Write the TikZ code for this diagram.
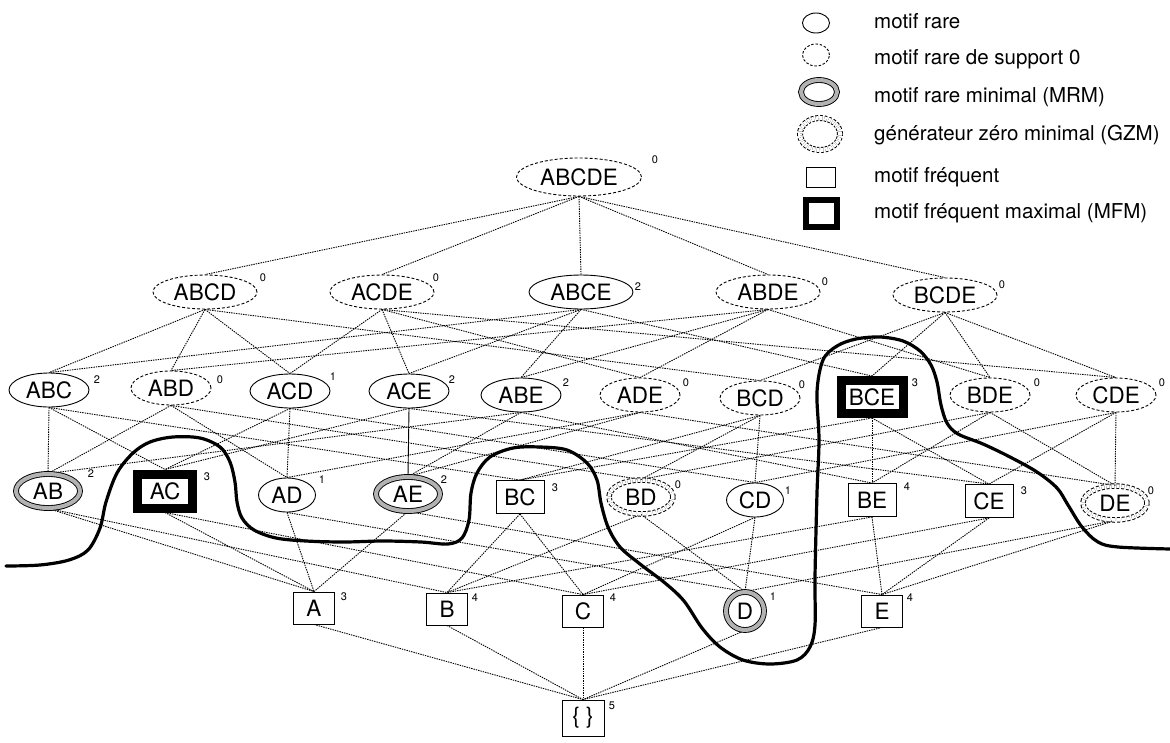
\documentclass[tikz,border=0pt]{standalone}
\usepackage{fontspec}
\setmainfont{TeX Gyre Heros}
\usetikzlibrary{shapes.geometric}
\pgfdeclarelayer{bg}
\pgfsetlayers{bg,main}
\begin{document}
\begin{tikzpicture}[x=1pt,y=-1pt,
  lab/.style={font=\fontsize{22.5}{24}\selectfont, inner sep=0pt, fill=white},
  rare/.style={lab, ellipse, draw, line width=0.9pt},
  rarez/.style={lab, ellipse, draw, line width=0.9pt, dash pattern=on 3pt off 2pt},
  mrm/.style={lab, ellipse, draw, line width=0.9pt, double=black!30, double distance=4pt},
  gzm/.style={lab, ellipse, draw, line width=1pt, dash pattern=on 3pt off 2pt, double=white, double distance=3.5pt},
  freq/.style={lab, rectangle, draw, line width=0.9pt},
  mfm/.style={lab, rectangle, draw, line width=9pt},
  lv5/.style={minimum width=125pt, minimum height=38pt},
  lv4/.style={minimum width=104pt, minimum height=34pt},
  lv3/.style={minimum width=80pt, minimum height=34pt},
  el2/.style={minimum width=57pt, minimum height=34pt},
  db2/.style={minimum width=64pt, minimum height=34pt},
  bx2/.style={minimum width=48pt, minimum height=33pt},
  bx1/.style={minimum width=41pt, minimum height=32pt},
  edge/.style={line width=0.9pt, dash pattern=on 1.4pt off 1pt},
  sup/.style={font=\fontsize{11}{12}\selectfont, inner sep=0pt},
  leg/.style={font=\fontsize{20.5}{22}\selectfont, inner sep=0pt, anchor=base west}]
\useasboundingbox (0,0) rectangle (1170,742);
% level 5
\node[rarez,lv5] (ABCDE) at (579,177) {ABCDE};
% level 4
\node[rarez,lv4] (ABCD) at (205,292) {ABCD};
\node[rarez,lv4] (ACDE) at (382,292) {ACDE};
\node[rare,lv4]  (ABCE) at (581,292) {ABCE};
\node[rarez,lv4] (ABDE) at (768,292) {ABDE};
\node[rarez,lv4] (BCDE) at (945,295) {BCDE};
% level 3
\node[rare,lv3]  (ABC) at (49,390) {ABC};
\node[rarez,lv3] (ABD) at (171,388) {ABD};
\node[rare,lv3]  (ACD) at (290,391) {ACD};
\node[rare,lv3]  (ACE) at (409,391) {ACE};
\node[rare,lv3]  (ABE) at (521,395) {ABE};
\node[rarez,lv3] (ADE) at (640,395) {ADE};
\node[rarez,lv3] (BCD) at (760,398) {BCD};
\node[mfm, minimum width=62pt, minimum height=33pt] (BCE) at (872,397) {BCE};
\node[rarez,lv3] (BDE) at (990,395) {BDE};
\node[rarez,lv3] (CDE) at (1116,395) {CDE};
% level 2
\node[mrm,db2] (AB) at (48,491) {AB};
\node[mfm, minimum width=55pt, minimum height=34pt] (AC) at (165,491) {AC};
\node[rare,el2] (AD) at (287,495) {AD};
\node[mrm,db2] (AE) at (408,494) {AE};
\node[freq,bx2] (BC) at (520,497) {BC};
\node[gzm,db2] (BD) at (641,497) {BD};
\node[rare,el2] (CD) at (755,500) {CD};
\node[freq,bx2] (BE) at (872,500) {BE};
\node[freq,bx2] (CE) at (989,501) {CE};
\node[gzm,db2] (DE) at (1115,503) {DE};
% level 1
\node[freq,bx1] (A) at (314,608) {A};
\node[freq,bx1] (B) at (447,609) {B};
\node[freq,bx1] (C) at (583,611) {C};
\node[mrm, minimum width=38pt, minimum height=38pt] (D) at (745,611) {D};
\node[freq,bx1] (E) at (882,611) {E};
% level 0
\node[freq, minimum width=42pt, minimum height=36pt] (empty) at (583,718) {\{ \}};
% supports
\node[sup] (sABCDE) at (655,160) {0};
\node[sup] (sABCD) at (263,278) {0};
\node[sup] (sACDE) at (436,278) {0};
\node[sup] (sABCE) at (638,287) {2};
\node[sup] (sABDE) at (825,282) {0};
\node[sup] (sBCDE) at (1002,285) {0};
\node[sup] (sABC) at (97,380) {2};
\node[sup] (sABD) at (220,380) {0};
\node[sup] (sACD) at (333,377) {1};
\node[sup] (sACE) at (452,380) {2};
\node[sup] (sABE) at (566,383) {2};
\node[sup] (sADE) at (686,383) {0};
\node[sup] (sBCD) at (802,385) {0};
\node[sup] (sBCE) at (915,383) {3};
\node[sup] (sBDE) at (1037,383) {0};
\node[sup] (sCDE) at (1162,383) {0};
\node[sup] (sAB) at (91,474) {2};
\node[sup] (sAC) at (207,477) {3};
\node[sup] (sAD) at (322,480) {1};
\node[sup] (sAE) at (444,480) {2};
\node[sup] (sBC) at (555,488) {3};
\node[sup] (sBD) at (678,485) {0};
\node[sup] (sCD) at (788,491) {1};
\node[sup] (sBE) at (907,487) {4};
\node[sup] (sCE) at (1024,491) {3};
\node[sup] (sDE) at (1151,491) {0};
\node[sup] (sA) at (344,597) {3};
\node[sup] (sB) at (475,598) {4};
\node[sup] (sC) at (613,598) {4};
\node[sup] (sD) at (773,597) {1};
\node[sup] (sE) at (910,598) {4};
\node[sup] (sempty) at (612,706) {5};
% edges
\begin{pgfonlayer}{bg}
\foreach \q in {ABCD,ACDE,ABCE,ABDE,BCDE} \draw[edge] (ABCDE.south) -- (\q.north);
\foreach \p/\q in {ABCD/ABC,ABCD/ABD,ABCD/ACD,ABCD/BCD, ACDE/ACD,ACDE/ACE,ACDE/ADE,ACDE/CDE,
  ABCE/ABC,ABCE/ABE,ABCE/ACE,ABCE/BCE, ABDE/ABD,ABDE/ABE,ABDE/ADE,ABDE/BDE,
  BCDE/BCD,BCDE/BCE,BCDE/BDE,BCDE/CDE,
  ABC/AB,ABC/AC,ABC/BC, ABD/AB,ABD/AD,ABD/BD, ACD/AC,ACD/AD,ACD/CD, ACE/AC,ACE/CE,
  ABE/AB,ABE/AE,ABE/BE, ADE/AD,ADE/AE,ADE/DE, BCD/BC,BCD/BD,BCD/CD, BCE/BC,BCE/BE,BCE/CE,
  BDE/BD,BDE/BE,BDE/DE, CDE/CD,CDE/CE,CDE/DE,
  AB/A,AB/B, AC/A,AC/C, AD/A,AD/D, AE/A,AE/E, BC/B,BC/C, BD/B,BD/D, CD/C,CD/D,
  BE/B,BE/E, CE/C,CE/E, DE/D,DE/E,
  A/empty,B/empty,C/empty,D/empty,E/empty}
  \draw[edge] (\p.south) -- (\q.north);
\draw[line width=0.9pt] (ACE.south) -- (AE.north);
\end{pgfonlayer}
% border curve
\draw[line width=3.2pt, line cap=round] plot[smooth, tension=0.55] coordinates {(6,566) (40,565) (69,560) (88,550) (100,528) (106,502) (117,473) (133,453) (150,442) (173,437) (200,438) (220,447) (230,462) (235,482) (237,502) (242,518) (254,530) (276,538) (306,541) (344,542) (383,541) (421,542) (448,544) (462,538) (469,520) (471,493) (477,473) (490,457) (513,448) (540,447) (567,450) (587,463) (597,480) (601,503) (608,527) (620,547) (640,564) (665,583) (684,601) (702,628) (720,647) (743,660) (770,664) (797,660) (810,647) (815,625) (815,577) (817,493) (819,440) (817,392) (823,360) (837,346) (856,339) (880,337) (903,341) (920,351) (931,365) (937,382) (941,405) (947,423) (958,434) (983,444) (1010,457) (1037,472) (1057,488) (1068,505) (1082,527) (1098,542) (1118,547) (1170,549)};
% legend
\node[ellipse, draw, line width=0.9pt, minimum width=27pt, minimum height=20pt, inner sep=0pt] (L1) at (816,23) {};
\node[ellipse, draw, line width=0.9pt, dash pattern=on 2.5pt off 1.8pt, minimum width=27pt, minimum height=22pt, inner sep=0pt] (L2) at (816,55) {};
\node[ellipse, draw, line width=0.9pt, double=black!30, double distance=4pt, minimum width=36pt, minimum height=24pt, inner sep=0pt] (L3) at (819,92) {};
\node[ellipse, draw, line width=1pt, dash pattern=on 2.5pt off 1.8pt, double=white, double distance=4pt, minimum width=40pt, minimum height=32pt, inner sep=0pt] (L4) at (820,134) {};
\node[rectangle, draw, line width=0.9pt, minimum width=29pt, minimum height=20pt, inner sep=0pt] (L5) at (821,177) {};
\node[rectangle, draw, line width=6pt, minimum width=31pt, minimum height=27pt, inner sep=0pt] (L6) at (821,213) {};
\node[leg] (T1) at (874,28) {motif rare};
\node[leg] (T2) at (874,64) {motif rare de support 0};
\node[leg] (T3) at (874,102) {motif rare minimal (MRM)};
\node[leg] (T4) at (874,140) {générateur zéro minimal (GZM)};
\node[leg] (T5) at (874,182) {motif fréquent};
\node[leg] (T6) at (874,218) {motif fréquent maximal (MFM)};
\end{tikzpicture}
\end{document}
